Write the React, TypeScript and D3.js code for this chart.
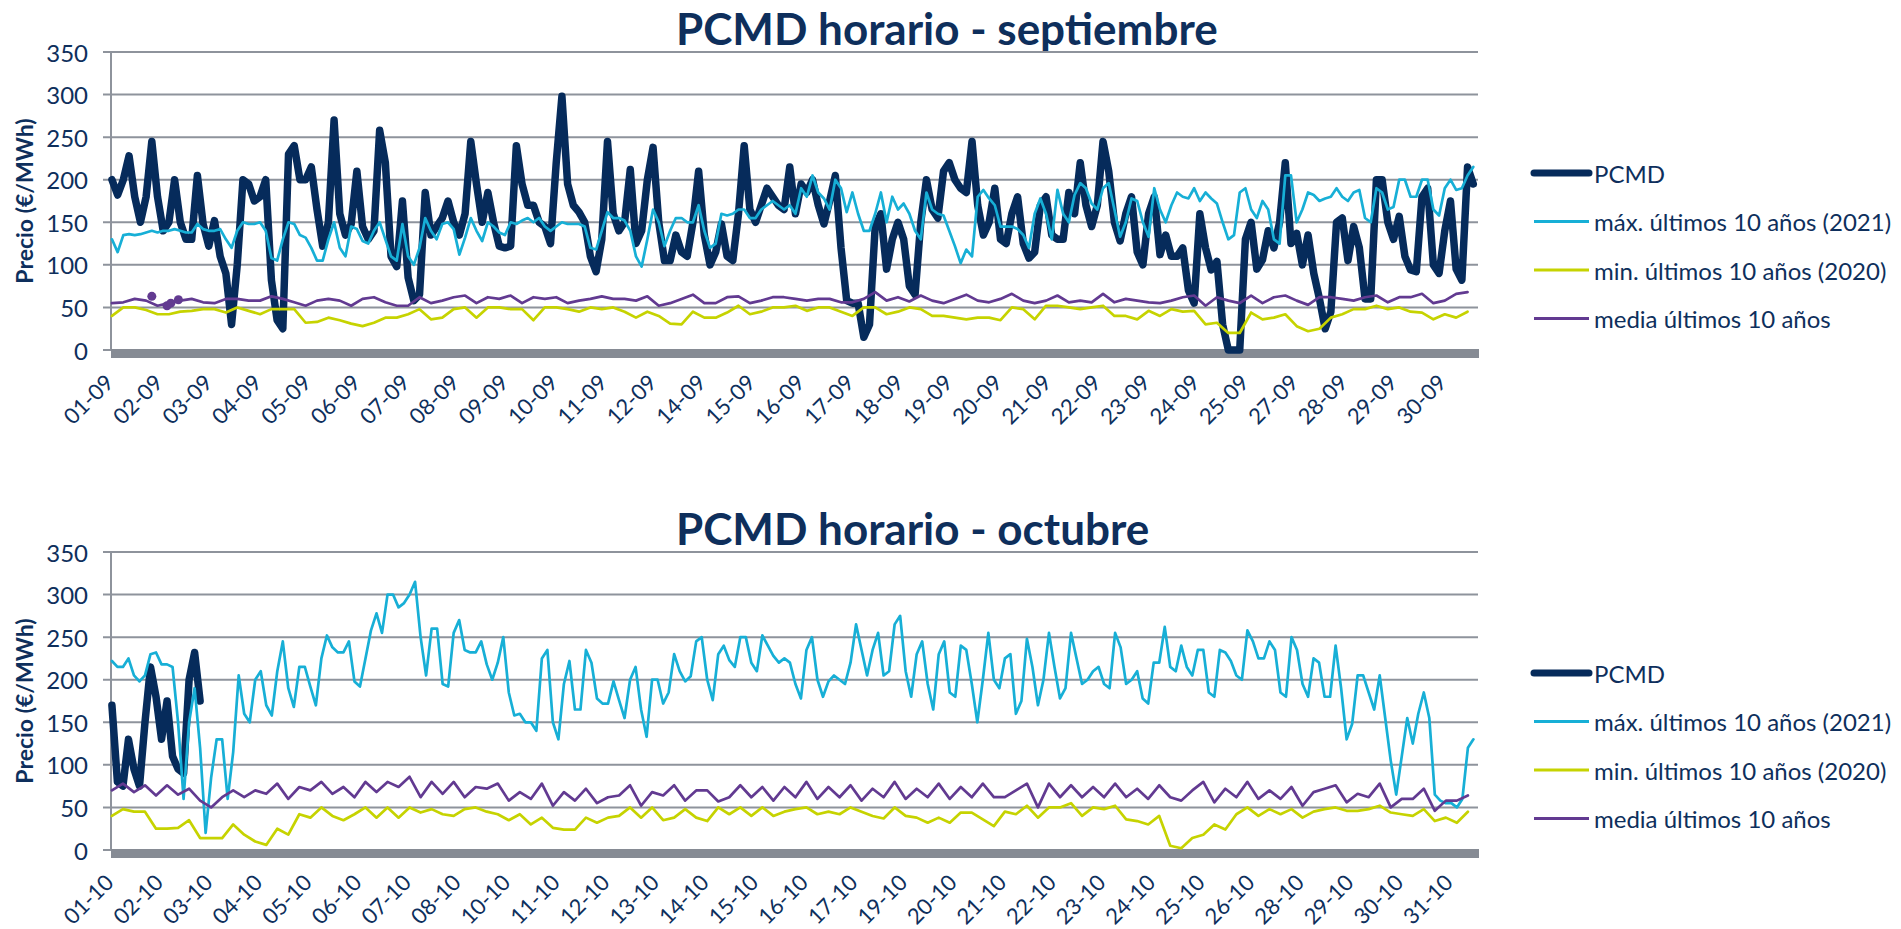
import * as d3 from "d3";

const WIDTH = 1901;
const HEIGHT = 929;
const LEFT = 111;
const RIGHT = 1478;
const PANEL_HEIGHT = 298;
const Y_MAX = 350;

const NAVY = "#062B5B";
const TEXT = "#0E2F5C";
const CYAN = "#17AFD6";
const YELLOW = "#C6D300";
const PURPLE = "#623A91";
const GRID = "#8E939C";
const AXIS = "#868B94";
const FONT = "Lato, 'Open Sans', sans-serif";

const yTicks = [0, 50, 100, 150, 200, 250, 300, 350];
const legendNames = [
  "PCMD",
  "máx. últimos 10 años (2021)",
  "min. últimos 10 años (2020)",
  "media últimos 10 años",
];

// x-axis labels (Excel shows one every 26 h in Sept, every 27 h in Oct)
const sepLabels = [
  "01-09", "02-09", "03-09", "04-09", "05-09", "06-09", "07-09", "08-09", "09-09", "10-09",
  "11-09", "12-09", "14-09", "15-09", "16-09", "17-09", "18-09", "19-09", "20-09", "21-09",
  "22-09", "23-09", "24-09", "25-09", "27-09", "28-09", "29-09", "30-09",
];
const octLabels = [
  "01-10", "02-10", "03-10", "04-10", "05-10", "06-10", "07-10", "08-10", "10-10", "11-10",
  "12-10", "13-10", "14-10", "15-10", "16-10", "17-10", "19-10", "20-10", "21-10", "22-10",
  "23-10", "24-10", "25-10", "26-10", "28-10", "29-10", "30-10", "31-10",
];

// September, PCMD and max every 3 h, min and mean every 6 h
const sepPcmd = [
  200, 182, 200, 228, 180, 150, 180, 245, 180, 140, 150, 200, 150, 130, 130, 205, 148, 122, 152, 110,
  90, 30, 100, 200, 195, 175, 180, 200, 82, 35, 25, 230, 240, 200, 200, 215, 165, 122, 150, 270,
  160, 135, 148, 210, 145, 130, 140, 258, 220, 110, 98,
  175, 85, 58, 65, 185, 135, 145, 155, 175, 150, 135, 160, 245, 195, 150, 185, 150, 122, 120, 122,
  240, 195, 170, 170, 150, 145, 125, 220, 298, 195, 170, 162, 150, 110, 92, 130, 245, 160, 140, 150,
  212, 125, 140, 200, 238, 150, 105, 105, 135, 115, 110, 150, 210, 135, 100, 115, 148, 110, 105, 160,
  240, 165, 150, 170, 190, 180, 170,
  165, 215, 160, 195, 185, 200, 170, 148, 175, 205, 120, 58, 55, 55, 15, 30, 145, 160, 95, 130,
  150, 130, 75, 65, 150, 200, 165, 155, 210, 220, 200, 190, 185, 245, 170, 135, 150, 190, 130, 125,
  160, 180, 125, 108, 115, 170, 180, 135, 130, 130, 185, 160, 220, 170, 145, 170, 245, 210, 150, 128,
  160, 180, 115, 100, 160,
  180, 112, 135, 110, 110, 120, 70, 55, 160, 120, 94, 104, 30, 0, 0, 0, 130, 150, 95, 106,
  140, 120, 150, 220, 125, 137, 100, 135, 90, 60, 25, 45, 150, 155, 105, 145, 120, 60, 60, 200,
  200, 150, 130, 157, 110, 94, 92, 180, 190, 100, 90, 140, 175, 95, 82, 215, 195,
];
const sepMax = [
  130, 115, 135, 136, 135, 136, 138, 140, 138, 140, 140, 142, 140, 138, 138, 148, 142, 140, 140, 142,
  130, 120, 140, 150, 148, 148, 150, 140, 108, 105, 130, 150, 148, 135, 132, 120, 105, 105, 130, 150,
  120, 110, 145, 142, 128, 125, 140, 150, 130, 110, 105,
  148, 110, 100, 120, 155, 140, 130, 148, 150, 142, 112, 132, 155, 140, 128, 150, 145, 138, 135, 150,
  148, 152, 155, 150, 155, 145, 140, 145, 150, 148, 148, 148, 145, 120, 118, 140, 162, 155, 155, 152,
  140, 110, 98, 130, 165, 150, 122, 140, 155, 155, 150, 150, 170, 140, 120, 125, 160, 158, 160, 165,
  165, 155, 155, 165, 170, 175, 170,
  165, 170, 160, 190, 180, 205, 185, 178, 165, 200, 190, 162, 185, 160, 140, 140, 160, 185, 150, 180,
  165, 172, 160, 140, 130, 185, 165, 160, 158, 140, 122, 102, 118, 110, 180, 188, 178, 170, 145, 145,
  145, 142, 135, 120, 160, 178, 160, 130, 188, 160, 150, 182, 196, 190, 172, 165, 190, 196, 165, 133,
  150, 178, 175, 150, 133,
  190, 165, 150, 170, 185, 180, 178, 190, 175, 185, 178, 172, 150, 130, 135, 185, 190, 165, 155, 175,
  165, 130, 125, 205, 205, 150, 165, 185, 182, 175, 178, 180, 190, 180, 175, 185, 188, 155, 150, 190,
  185, 165, 168, 200, 200, 180, 180, 200, 200, 165, 158, 190, 200, 188, 190, 205, 215,
];
const sepMin = [
  40, 50, 50, 47, 42, 42, 45, 46, 48, 48, 44, 50, 46, 42, 48, 48, 48, 32, 33, 38, 35, 31, 28, 32, 38, 38,
  42, 48, 36, 38, 48, 50, 38, 50, 50, 48, 48, 35, 50, 50, 48, 45, 50, 48, 50, 45, 38, 45, 40, 31,
  30, 45, 38, 38, 44, 52, 42, 45, 50,
  50, 52, 46, 50, 50, 45, 40, 50, 50, 42, 45, 50, 48, 40, 40, 38, 36, 38, 38, 35, 50, 48, 36, 52,
  52, 50, 48, 50, 52, 40, 40, 36, 46,
  40, 48, 45, 46, 30, 32, 20, 20, 44, 36, 38, 42, 28, 22, 25, 38, 42, 48, 48, 52, 48, 50, 45, 44,
  36, 42, 38, 45,
];
const sepMean = [
  55, 56, 60, 58, 52, 55, 58, 60, 56, 55, 60, 60, 58, 58, 63, 60, 56, 52, 58, 60, 58, 52, 60, 62, 56, 52,
  52, 62, 55, 58, 62, 64, 55, 62, 60, 64, 55, 62, 60, 62, 55, 58, 60, 63, 60, 60, 58, 63, 52, 55,
  60, 65, 55, 55, 62, 63, 55, 58, 62,
  62, 60, 58, 60, 60, 56, 56, 60, 68, 58, 62, 57, 64, 58, 55, 60, 65, 58, 56, 60, 66, 58, 55, 58,
  64, 56, 58, 56, 66, 56, 60, 58, 56,
  55, 58, 62, 64, 52, 62, 58, 55, 64, 55, 62, 64, 58, 53, 62, 62, 60, 58, 62, 64, 56, 62, 62, 66,
  55, 58, 66, 68,
];
// [hour, value] of the few point markers on the Sept mean line
const sepMeanMarkers = [
  [21, 63],
  [29, 52],
  [31, 55],
  [35, 59],
];

// October
const octPcmd = [170, 80, 75, 130, 95, 75, 150, 215, 180, 130, 175, 110, 95, 90, 200, 232, 175];
const octMax = [
  222, 215, 215, 225, 205, 198, 205, 230, 232, 218, 218, 215, 150, 60, 150, 190, 120, 20, 85, 130,
  130, 60, 115, 205, 160, 150, 200, 210, 170, 158, 210, 245, 190, 168, 215, 215, 192, 170, 225, 252,
  238, 232, 232, 245, 198, 192, 225, 258, 278, 255,
  300, 300, 285, 290, 300, 315, 250, 205, 260, 260, 195, 192, 255, 270, 235, 232, 232, 245, 218, 200,
  220, 250, 185, 158, 160, 150, 150, 140, 225, 235, 150, 130, 195, 222, 165, 165, 235, 220, 178, 172,
  172, 198, 176, 155, 200, 215, 165, 133, 200, 200, 172, 185, 230, 210, 198, 204, 245, 250, 200, 176,
  230, 240, 223, 215, 250, 250, 220, 210, 252, 240, 228, 220,
  225, 220, 195, 178, 235, 250, 200, 180, 198, 205, 200, 195, 220, 265, 235, 205, 235, 255, 205, 210,
  265, 275, 210, 180, 230, 245, 195, 165, 230, 245, 185, 180, 240, 235, 195, 150, 200, 255, 200, 190,
  225, 230, 160, 175, 248, 215, 170, 200, 255, 215, 178, 190, 255, 225, 195, 200, 210, 215, 195, 190,
  255, 238, 195, 200, 210, 178, 172, 220,
  220, 262, 215, 210, 240, 215, 205, 235, 235, 185, 180, 235, 232, 222, 205, 200, 258, 245, 225, 225,
  245, 235, 185, 180, 250, 235, 195, 180, 225, 220, 180, 180, 240, 190, 130, 148, 205, 205, 185, 165,
  205, 155, 105, 65, 110, 155, 125, 160, 185, 155, 65, 58, 55, 55, 50, 60, 120, 130,
];
const octMin = [
  40, 48, 45, 45, 25, 25, 26, 35, 14, 14, 14, 30, 18, 10, 6, 25, 18, 42, 38, 50, 40, 35, 42, 50, 38,
  50, 38, 50, 44, 48, 42, 40, 48, 50, 45, 42, 35, 42, 30, 38, 26, 24, 24, 38, 32, 38, 40, 50, 38,
  50, 35, 38, 48, 38, 34, 50, 42, 50, 40, 50, 40,
  45, 48, 50, 42, 45, 42, 50, 45, 40, 37, 50, 40, 38, 32, 38, 32, 44, 44, 36, 28, 45, 42, 52, 38,
  50, 50, 55, 40, 50, 48, 52, 36, 34, 30,
  40, 5, 2, 14, 18, 30, 24, 42, 50, 40, 48, 42, 48, 38, 45, 48, 50, 46, 46, 48, 52, 44, 42, 40, 48,
  34, 38, 32, 45,
];
const octMean = [
  70, 78, 68, 76, 64, 76, 65, 72, 58, 50, 62, 70, 62, 70, 66, 78, 60, 74, 70, 80, 66, 74, 62, 80, 68,
  80, 74, 86, 62, 80, 66, 80, 62, 74, 72, 78, 58, 68, 60, 78, 52, 68, 58, 72, 55, 62, 64, 76, 52,
  68, 64, 76, 58, 70, 70, 57, 62, 76, 62, 74, 58,
  74, 62, 80, 60, 74, 62, 76, 58, 72, 62, 80, 60, 72, 62, 78, 60, 74, 62, 78, 62, 62, 70, 78, 50,
  78, 62, 76, 62, 74, 62, 78, 62, 72, 60,
  76, 62, 58, 70, 80, 56, 72, 62, 80, 60, 70, 60, 74, 52, 68, 72, 76, 56, 66, 62, 78, 50, 60, 60,
  72, 46, 58, 58, 64,
];

interface Series {
  values: number[];
  step: number; // hours between two values
  color: string;
  width: number;
}

interface PanelProps {
  title: string;
  top: number;
  hours: number;
  labels: string[];
  labelStep: number;
  series: Series[];
  markers?: number[][];
}

function Panel({ title, top, hours, labels, labelStep, series, markers }: PanelProps) {
  const x = d3.scaleLinear().domain([0, hours]).range([LEFT, RIGHT]);
  const y = d3.scaleLinear().domain([0, Y_MAX]).range([top + PANEL_HEIGHT, top]);
  const zero = y(0);

  const pathFor = (s: Series) =>
    d3
      .line<number>()
      .x((_, i) => x(i * s.step + 0.5))
      .y((v) => y(v))(s.values) ?? "";

  const legendColors = [NAVY, CYAN, YELLOW, PURPLE];

  return (
    <g>
      <text x={676} y={top - 7} fill={TEXT} fontFamily={FONT} fontWeight="bold" fontSize={44}>
        {title}
      </text>

      {yTicks.map((t) => (
        <line key={t} x1={LEFT - 8} x2={RIGHT} y1={y(t)} y2={y(t)} stroke={GRID} strokeWidth={2} />
      ))}
      <line x1={LEFT} x2={LEFT} y1={top} y2={zero} stroke={GRID} strokeWidth={2} />
      {yTicks.map((t) => (
        <text
          key={t}
          x={88}
          y={y(t)}
          textAnchor="end"
          dominantBaseline="central"
          fill={TEXT}
          fontFamily={FONT}
          fontSize={24}
        >
          {t}
        </text>
      ))}
      <text
        transform={`translate(24,${(top + zero) / 2}) rotate(-90)`}
        textAnchor="middle"
        dominantBaseline="central"
        fill={TEXT}
        fontFamily={FONT}
        fontWeight="bold"
        fontSize={23}
      >
        Precio (€/MWh)
      </text>

      <rect x={LEFT} y={zero - 1} width={RIGHT - LEFT + 1} height={9} fill={AXIS} />

      {series.map((s, i) => (
        <path
          key={i}
          d={pathFor(s)}
          fill="none"
          stroke={s.color}
          strokeWidth={s.width}
          strokeLinejoin="round"
          strokeLinecap="round"
        />
      ))}
      {(markers ?? []).map(([h, v], i) => (
        <circle key={i} cx={x(h + 0.5)} cy={y(v)} r={4.5} fill={PURPLE} />
      ))}

      {labels.map((lab, i) => {
        const tx = x(i * labelStep + 0.5);
        return (
          <text
            key={lab}
            transform={`translate(${tx + 3},${zero + 34}) rotate(-45)`}
            textAnchor="end"
            fill={TEXT}
            fontFamily={FONT}
            fontSize={22}
          >
            {lab}
          </text>
        );
      })}

      {legendNames.map((name, i) => {
        const ly = top + 121 + i * 48.5;
        return (
          <g key={name}>
            <line
              x1={1534}
              x2={1589}
              y1={ly}
              y2={ly}
              stroke={legendColors[i]}
              strokeWidth={i === 0 ? 7 : 3}
              strokeLinecap={i === 0 ? "round" : "butt"}
            />
            <text
              x={1594}
              y={ly}
              dominantBaseline="central"
              fill={TEXT}
              fontFamily={FONT}
              fontSize={24}
            >
              {name}
            </text>
          </g>
        );
      })}
    </g>
  );
}

export default function App() {
  return (
    <svg
      width={WIDTH}
      height={HEIGHT}
      style={{ position: "absolute", left: 0, top: 0, background: "#fff" }}
    >
      <Panel
        title="PCMD horario - septiembre"
        top={52}
        hours={720}
        labels={sepLabels}
        labelStep={26}
        markers={sepMeanMarkers}
        series={[
          { values: sepPcmd, step: 3, color: NAVY, width: 7.5 },
          { values: sepMax, step: 3, color: CYAN, width: 2.7 },
          { values: sepMin, step: 6, color: YELLOW, width: 2.7 },
          { values: sepMean, step: 6, color: PURPLE, width: 2.7 },
        ]}
      />
      <Panel
        title="PCMD horario - octubre"
        top={552}
        hours={744}
        labels={octLabels}
        labelStep={27}
        series={[
          { values: octPcmd, step: 3, color: NAVY, width: 7.5 },
          { values: octMax, step: 3, color: CYAN, width: 2.7 },
          { values: octMin, step: 6, color: YELLOW, width: 2.7 },
          { values: octMean, step: 6, color: PURPLE, width: 2.7 },
        ]}
      />
    </svg>
  );
}
